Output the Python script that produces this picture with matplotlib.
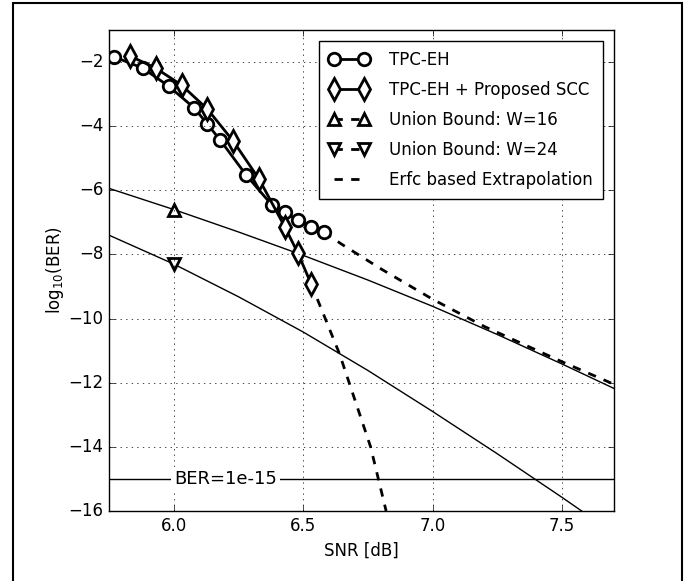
import matplotlib
matplotlib.use("Agg")
import matplotlib.pyplot as plt
from matplotlib.patches import Rectangle

# TPC-EH simulated points
snr_eh = [5.77, 5.88, 5.98, 6.08, 6.13, 6.18, 6.28, 6.38, 6.43, 6.48, 6.53, 6.58]
ber_eh = [-1.84, -2.19, -2.75, -3.44, -3.94, -4.44, -5.53, -6.47, -6.69, -6.94, -7.13, -7.31]

# TPC-EH + proposed SCC
snr_scc = [5.83, 5.93, 6.03, 6.13, 6.23, 6.33, 6.43, 6.48, 6.53]
ber_scc = [-1.81, -2.19, -2.72, -3.47, -4.47, -5.66, -7.16, -7.97, -8.91]

# union bounds (thin curves) and their markers
snr_ub = [5.75, 6.0, 6.25, 6.5, 6.75, 7.0, 7.25, 7.5, 7.7]
ub_w16 = [-5.94, -6.6, -7.3, -8.03, -8.8, -9.62, -10.5, -11.42, -12.18]
ub_w24 = [-7.4, -8.3, -9.32, -10.42, -11.62, -12.9, -14.22, -15.58, -16.7]
snr_mark = [6.0]
mark_w16 = [-6.6]
mark_w24 = [-8.3]

# erfc based extrapolation
snr_ex1 = [6.58, 6.65, 6.8, 7.0, 7.2, 7.5, 7.7]
ber_ex1 = [-7.31, -7.69, -8.45, -9.4, -10.25, -11.35, -12.05]
snr_ex2 = [6.53, 6.58, 6.64, 6.70, 6.76, 6.79, 6.82]
ber_ex2 = [-8.91, -9.9, -11.1, -12.55, -14.0, -15.0, -16.0]

ber_target = -15

plt.style.use("classic")
plt.rcParams["figure.facecolor"] = "white"
plt.rcParams["savefig.facecolor"] = "white"
plt.rcParams["mathtext.fontset"] = "dejavusans"
plt.rcParams["font.family"] = "DejaVu Sans"

fig = plt.figure(figsize=(6.89, 5.81), dpi=100)
ax = fig.add_axes([0.1582, 0.1205, 0.733, 0.828])

mk = dict(mfc="white", mec="black", mew=2)
ax.plot(snr_eh, ber_eh, "k-o", lw=2, ms=9, label="TPC-EH", **mk)
ax.plot(snr_scc, ber_scc, "k-d", lw=2, ms=11, label="TPC-EH + Proposed SCC", **mk)
ax.plot(snr_mark, mark_w16, "k^--", lw=2, ms=9, label="Union Bound: W=16", **mk)
ax.plot(snr_mark, mark_w24, "kv--", lw=2, ms=9, label="Union Bound: W=24", **mk)
ax.plot(snr_ex1, ber_ex1, "k--", lw=2, label="Erfc based Extrapolation", zorder=1.5)
ax.plot(snr_ex2, ber_ex2, "k--", lw=2, zorder=1.5)
ax.plot(snr_ub, ub_w16, "k-", lw=1, zorder=1.4)
ax.plot(snr_ub, ub_w24, "k-", lw=1, zorder=1.4)

ax.axhline(ber_target, color="k", lw=1, zorder=1.4)
ax.text(6.2, ber_target, "BER=1e-15", ha="center", va="center", fontsize=13,
        bbox=dict(fc="white", ec="none", pad=2), zorder=3)

ax.set_xlim(5.75, 7.7)
ax.set_ylim(-16, -1)
ax.set_xticks([6.0, 6.5, 7.0, 7.5])
ax.set_yticks([-2, -4, -6, -8, -10, -12, -14, -16])
ax.grid(True)
ax.set_xlabel("SNR [dB]")
ax.set_ylabel("log$_{10}$(BER)", labelpad=2)
ax.legend(loc="upper right", numpoints=2, fontsize=12, borderpad=0.6,
          handlelength=2.4, handletextpad=1.2, labelspacing=0.72,
          borderaxespad=0.66)

fig.patches.append(Rectangle((13 / 689, -0.01), (682 - 13) / 689, 1.01 - 3 / 581,
                             transform=fig.transFigure, fill=False, ec="black", lw=1.5))

fig.savefig("out.png", dpi=100)
